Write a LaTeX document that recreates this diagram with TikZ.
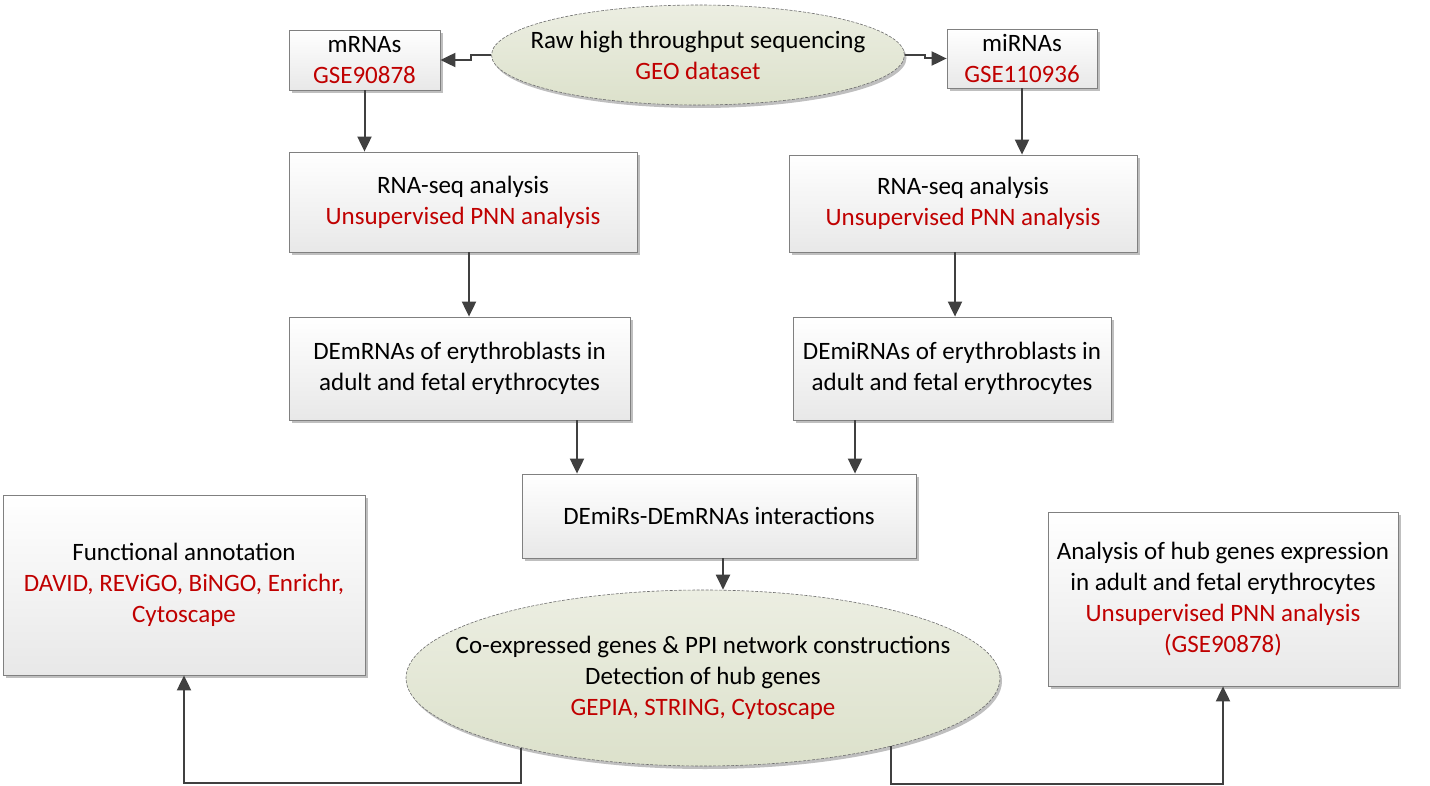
\documentclass[tikz,border=0pt]{standalone}
\usepackage{fontspec}
\setmainfont{Carlito}
\usetikzlibrary{shapes.geometric,arrows.meta,shadows,calc}
\definecolor{dred}{RGB}{192,0,0}
\definecolor{arrgray}{RGB}{64,64,64}
\definecolor{elltop}{RGB}{236,238,226}
\definecolor{ellbot}{RGB}{220,225,203}
\newcommand{\rd}[1]{{\color{dred}#1}}
\begin{document}
\begin{tikzpicture}[x=1pt,y=-1pt,
  box/.style={rectangle, draw={rgb,255:red,128;green,128;blue,128}, line width=0.8pt,
    top color=white, bottom color={rgb,255:red,232;green,232;blue,232},
    inner sep=0pt, align=center, font=\fontsize{25}{31}\selectfont,
    drop shadow={shadow xshift=3pt, shadow yshift=-3pt, opacity=0.25, fill=black}},
  ellbox/.style={ellipse, draw={rgb,255:red,110;green,110;blue,110}, line width=0.6pt,
    dash pattern=on 3pt off 1.5pt, top color=elltop, bottom color=ellbot,
    inner xsep=-60pt, inner ysep=0pt, align=center, font=\fontsize{25}{31}\selectfont,
    drop shadow={shadow xshift=2pt, shadow yshift=-3pt, opacity=0.25, fill=black}},
  arr/.style={draw=arrgray, line width=2pt, -{Triangle[length=15pt,width=14pt]}}
]
\useasboundingbox (0,0) rectangle (1430,786);
\fill[white] (0,0) rectangle (1430,786);

\node[ellbox, minimum width=413pt, minimum height=100pt] (raw) at (698,55)
  {Raw high throughput sequencing\\\rd{GEO dataset}};
\node[box, minimum width=151pt, minimum height=60pt] (mrna) at (364.5,60)
  {mRNAs\\\rd{GSE90878}};
\node[box, minimum width=150pt, minimum height=59pt] (mirna) at (1022,58.5)
  {miRNAs\\\rd{GSE110936}};
\node[box, minimum width=348pt, minimum height=100pt] (rna1) at (463,202)
  {RNA-seq analysis\\\rd{Unsupervised PNN analysis}};
\node[box, minimum width=348pt, minimum height=97pt] (rna2) at (963,203.5)
  {RNA-seq analysis\\\rd{Unsupervised PNN analysis}};
\node[box, minimum width=341pt, minimum height=103pt] (de1) at (459.5,368.5)
  {DEmRNAs of erythroblasts in\\adult and fetal erythrocytes};
\node[box, minimum width=318pt, minimum height=103pt] (de2) at (952,368.5)
  {DEmiRNAs of erythroblasts in\\adult and fetal erythrocytes};
\node[box, minimum width=394pt, minimum height=84pt] (inter) at (719,516)
  {DEmiRs-DEmRNAs interactions};
\node[ellbox, minimum width=594pt, minimum height=176pt] (co) at (703,678)
  {Co-expressed genes \& PPI network constructions\\Detection of hub genes\\\rd{GEPIA, STRING, Cytoscape}};
\node[box, minimum width=362pt, minimum height=180pt] (fa) at (184,585)
  {Functional annotation\\\rd{DAVID, REViGO, BiNGO, Enrichr,}\\\rd{Cytoscape}};
\node[box, minimum width=350pt, minimum height=174pt] (hub) at (1223,599)
  {Analysis of hub genes expression\\in adult and fetal erythrocytes\\\rd{Unsupervised PNN analysis}\\\rd{(GSE90878)}};

\draw[arr] (raw.west) -- ++(-20,0) |- (mrna.east);
\draw[arr] (raw.east) -- ++(20,0) |- (mirna.west);
\draw[arr] (mrna.south) -- (mrna.south |- rna1.north);
\draw[arr] (mirna.south) -- (mirna.south |- rna2.north);
\draw[arr] ([xshift=6pt]rna1.south) -- ([xshift=6pt]rna1.south |- de1.north);
\draw[arr] ([xshift=-8pt]rna2.south) -- ([xshift=-8pt]rna2.south |- de2.north);
\draw[arr] ([xshift=-142pt]inter.north |- de1.south) -- ([xshift=-142pt]inter.north);
\draw[arr] ([xshift=136pt]inter.north |- de2.south) -- ([xshift=136pt]inter.north);
\draw[arr] ([xshift=4pt]inter.south) -- ([xshift=4pt]inter.south |- co.north);
\draw[arr] (co.201.4) -- ++(0,35) -| (fa.south);
\draw[arr] (co.340.8) -- ++(0,38) -| (hub.south);
\end{tikzpicture}
\end{document}
